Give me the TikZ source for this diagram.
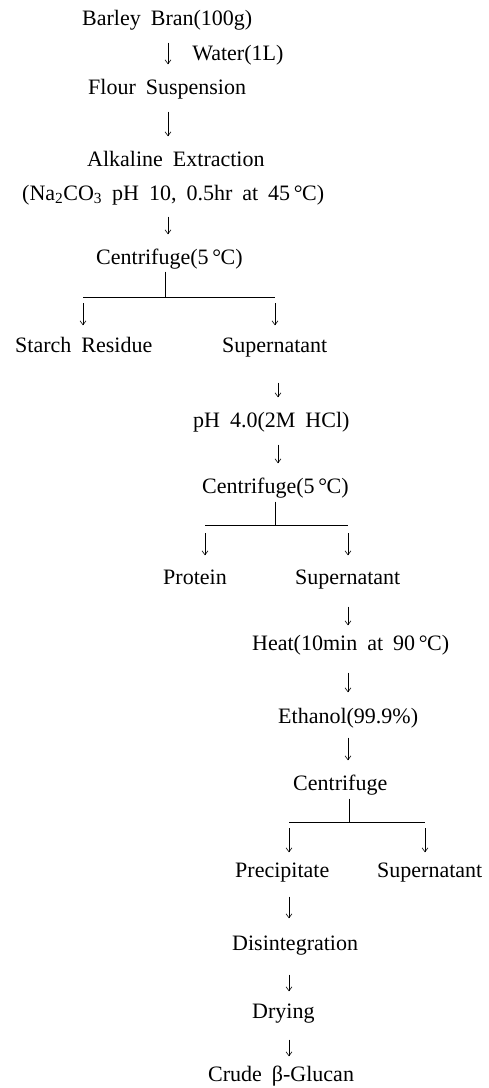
\documentclass[tikz,border=0pt]{standalone}
\usepackage{fontspec}
\setmainfont{Liberation Serif}
\usetikzlibrary{arrows.meta}
\newcommand{\degC}{\,\textdegree\kern-0.5pt C}
\newcommand{\wide}{\spaceskip=10pt\relax}
\begin{document}
\begin{tikzpicture}[x=1pt,y=-1pt]
    \tikzstyle{txt}=[inner sep=0pt, anchor=west, text height=15pt, text depth=0pt,
      font={\fontsize{22}{26}\selectfont\wide}]
    \tikzstyle{flow}=[line width=0.6pt, -{Straight Barb[length=4pt,width=6pt]},
      shorten <=17pt, shorten >=15pt]
    \tikzstyle{bar}=[line width=0.7pt]

    \useasboundingbox (0,0) rectangle (489,1088);

    % columns of the arrows
    \coordinate (c1) at (168,0);
    \coordinate (c2) at (278,0);
    \coordinate (c3) at (348,0);
    \coordinate (c4) at (289,0);

    \node [txt] (barley) at (82,18) {Barley Bran(100g)};
    \node [txt] (flour) at (88,87) {Flour Suspension};
    \node [txt] (alk) at (87,159) {Alkaline Extraction};
    \node [txt] (alkc) at (22,193) {(Na\textsubscript{2}CO\textsubscript{3} pH 10, 0.5hr at 45\degC)};
    \node [txt] (cent1) at (96,257) {Centrifuge(5\degC)};

    \node [txt] (starch) at (15,345) {Starch Residue};
    \node [txt] (sup1) at (222,345) {Supernatant};
    \node [txt] (ph) at (193,420) {pH 4.0(2M HCl)};
    \node [txt] (cent2) at (202,486) {Centrifuge(5\degC)};

    \node [txt] (protein) at (163,577) {Protein};
    \node [txt] (sup2) at (295,577) {Supernatant};
    \node [txt] (heat) at (252,643) {Heat(10min at 90\degC)};
    \node [txt] (ethanol) at (278,716) {Ethanol(99.9\%)};
    \node [txt] (cent3) at (293,783) {Centrifuge};

    \node [txt] (precip) at (235,870) {Precipitate};
    \node [txt] (sup3) at (377,870) {Supernatant};
    \node [txt] (disint) at (232,943) {Disintegration};
    \node [txt] (drying) at (252,1011) {Drying};
    \node [txt] (crude) at (208,1074) {Crude β-Glucan};

    % branch points
    \coordinate (j1) at (165,297);
    \coordinate (j1l) at (83,297);
    \coordinate (j1r) at (275,297);
    \coordinate (j2) at (275,525);
    \coordinate (j2l) at (205,525);
    \coordinate (j2r) at (348,525);
    \coordinate (j3) at (349,822);
    \coordinate (j3l) at (289,822);
    \coordinate (j3r) at (425,822);

    \draw [flow] (barley.south -| c1) -- (flour.north -| c1)
      node [txt, midway, right=24pt] (water) {Water(1L)};
    \draw [flow] (flour.south -| c1) -- (alk.north -| c1);
    \draw [flow, shorten <=16pt] (alkc.south -| c1) -- (cent1.north -| c1);

    \draw [bar] (cent1.south -| j1) ++(0,7) -- (j1);
    \draw [bar] (j1l) -- (j1r);
    \draw [flow, shorten <=6pt, shorten >=12pt] (j1l) -- (starch.north -| j1l);
    \draw [flow, shorten <=6pt, shorten >=12pt] (j1r) -- (sup1.north -| j1r);

    \draw [flow, shorten <=30pt] (sup1.south -| c2) -- (ph.north -| c2);
    \draw [flow, shorten <=17pt] (ph.south -| c2) -- (cent2.north -| c2);

    \draw [bar] (cent2.south -| j2) ++(0,8) -- (j2);
    \draw [bar] (j2l) -- (j2r);
    \draw [flow, shorten <=8pt, shorten >=14pt] (j2l) -- (protein.north -| j2l);
    \draw [flow, shorten <=8pt, shorten >=14pt] (j2r) -- (sup2.north -| j2r);

    \draw [flow, shorten <=22pt, shorten >=10pt] (sup2.south -| c3) -- (heat.north -| c3);
    \draw [flow, shorten <=22pt, shorten >=16pt] (heat.south -| c3) -- (ethanol.north -| c3);
    \draw [flow, shorten <=14pt, shorten >=15pt] (ethanol.south -| c3) -- (cent3.north -| c3);

    \draw [bar] (cent3.south -| j3) ++(0,8) -- (j3);
    \draw [bar] (j3l) -- (j3r);
    \draw [flow, shorten <=6pt, shorten >=10pt] (j3l) -- (precip.north -| j3l);
    \draw [flow, shorten <=6pt, shorten >=10pt] (j3r) -- (sup3.north -| j3r);

    \draw [flow, shorten <=19pt, shorten >=17pt] (precip.south -| c4) -- (disint.north -| c4);
    \draw [flow, shorten <=24pt, shorten >=12pt] (disint.south -| c4) -- (drying.north -| c4);
    \draw [flow, shorten <=21pt, shorten >=10pt] (drying.south -| c4) -- (crude.north -| c4);
  \end{tikzpicture}
\end{document}
